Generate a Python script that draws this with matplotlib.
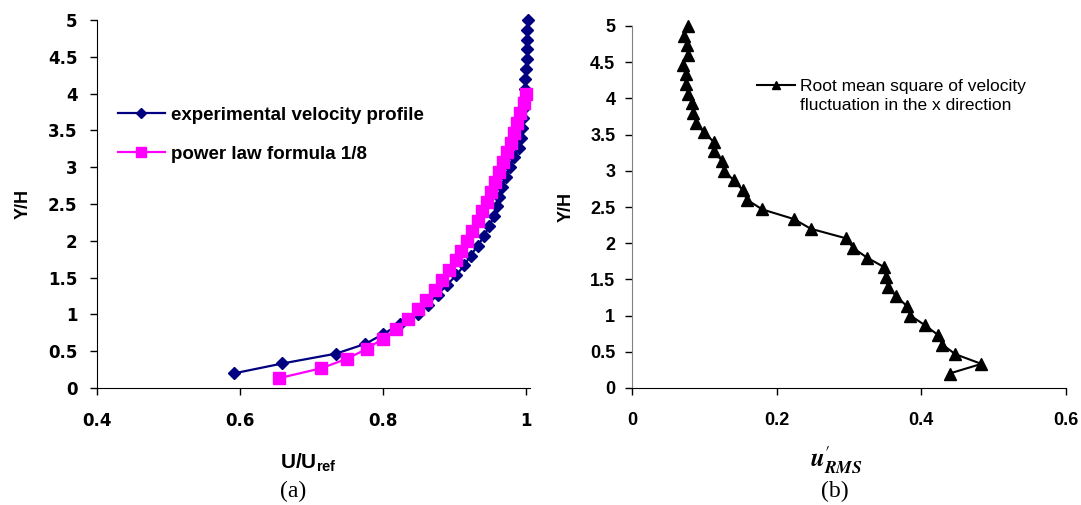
import matplotlib.pyplot as plt

plt.rcParams['font.family'] = ['Liberation Sans', 'DejaVu Sans']
plt.rcParams['mathtext.fontset'] = 'custom'
plt.rcParams['mathtext.rm'] = 'Liberation Sans:bold'
plt.rcParams['mathtext.bf'] = 'Liberation Sans:bold'

# shared Y/H stations
y_h = [0.2, 0.333, 0.467, 0.6, 0.733, 0.867, 1.0, 1.133, 1.267, 1.4, 1.533, 1.667,
       1.8, 1.933, 2.067, 2.2, 2.333, 2.467, 2.6, 2.733, 2.867, 3.0, 3.133, 3.267,
       3.4, 3.533, 3.667, 3.8, 3.933, 4.067, 4.2, 4.333, 4.467, 4.6, 4.733, 4.867, 5.0]

# (a) experimental velocity profile
u_exp = [0.592, 0.659, 0.734, 0.775, 0.800, 0.823, 0.848, 0.862, 0.876, 0.889, 0.902,
         0.913, 0.922, 0.932, 0.941, 0.948, 0.955, 0.959, 0.962, 0.966, 0.971, 0.977,
         0.983, 0.989, 0.992, 0.994, 0.995, 0.996, 0.997, 0.998, 0.998, 1.000, 1.001,
         1.001, 1.001, 1.001, 1.002]

# (a) power law 1/8
y_pow = [0.133, 0.267, 0.4, 0.533, 0.667, 0.8, 0.933, 1.067, 1.2, 1.333, 1.467, 1.6,
         1.733, 1.867, 2.0, 2.133, 2.267, 2.4, 2.533, 2.667, 2.8, 2.933, 3.067, 3.2,
         3.333, 3.467, 3.6, 3.733, 3.867, 4.0]
u_pow = [0.654, 0.713, 0.750, 0.777, 0.799, 0.818, 0.834, 0.848, 0.860, 0.872, 0.882,
         0.892, 0.901, 0.909, 0.917, 0.924, 0.932, 0.938, 0.945, 0.951, 0.956, 0.962,
         0.967, 0.973, 0.978, 0.982, 0.987, 0.991, 0.996, 1.000]

# (b) rms of velocity fluctuation
u_rms = [0.439, 0.483, 0.447, 0.429, 0.423, 0.405, 0.385, 0.380, 0.365, 0.354, 0.351,
         0.349, 0.325, 0.306, 0.296, 0.247, 0.224, 0.180, 0.159, 0.153, 0.141, 0.127,
         0.125, 0.113, 0.113, 0.099, 0.089, 0.085, 0.083, 0.078, 0.074, 0.074, 0.070,
         0.077, 0.076, 0.072, 0.078]

y_ticks = [0, 0.5, 1, 1.5, 2, 2.5, 3, 3.5, 4, 4.5, 5]
y_tick_labels = ['0', '0.5', '1', '1.5', '2', '2.5', '3', '3.5', '4', '4.5', '5']

fig = plt.figure(figsize=(10.81, 5.05), dpi=100)
W, H = 1081, 505

def px_axes(x0, x1, y0, y1):
    return fig.add_axes([x0 / W, 1 - y0 / H, (x1 - x0) / W, (y0 - y1) / H])

tick_a = dict(fontsize=12, fontweight='bold', family=['DejaVu Sans'])
tick_b = dict(fontsize=13, fontweight='bold',
              family=['Liberation Sans Narrow', 'Liberation Sans'])

# ---- panel (a)
ax1 = px_axes(97, 530, 388, 20)
ax1.plot(u_exp, y_h, color='#000080', lw=1.6, marker='D', ms=6.5, clip_on=False,
         label='experimental velocity profile')
ax1.plot(u_pow, y_pow, color='#FF00FF', lw=1.6, marker='s', ms=8.5, clip_on=False,
         label='power law formula 1/8')
ax1.set_xlim(0.4, 1.005)
ax1.set_ylim(0, 5)
ax1.set_xticks([0.4, 0.6, 0.8, 1.0])
ax1.set_xticklabels(['0.4', '0.6', '0.8', '1'], **tick_a)
ax1.set_yticks(y_ticks)
ax1.set_yticklabels(y_tick_labels, **tick_a)
ax1.set_xlabel(r'U/U$_{\mathbf{ref}}$', fontsize=15, fontweight='bold')
ax1.xaxis.set_label_coords(0.489, -0.172)
ax1.set_ylabel('Y/H', fontsize=13, fontweight='bold')
ax1.yaxis.set_label_coords(-0.15, 0.5)
leg1 = ax1.legend(loc='center left', bbox_to_anchor=(0.048, 0.688), frameon=False,
                  borderaxespad=0, borderpad=0, handlelength=2.5, handletextpad=0.35,
                  labelspacing=1.15, markerscale=0.8,
                  prop=dict(size=13.5, weight='bold'))

# ---- panel (b)
ax2 = px_axes(632, 1066, 388, 26)
ax2.plot(u_rms, y_h, color='black', lw=1.5, marker='^', ms=8.5, clip_on=False,
         label='Root mean square of velocity')
ax2.set_xlim(0, 0.6)
ax2.set_ylim(0, 5)
ax2.set_xticks([0, 0.2, 0.4, 0.6])
ax2.set_xticklabels(['0', '0.2', '0.4', '0.6'], **tick_b)
ax2.set_yticks(y_ticks)
ax2.set_yticklabels(y_tick_labels, **tick_b)
ax2.set_ylabel('Y/H', fontsize=13, fontweight='bold')
ax2.yaxis.set_label_coords(-0.133, 0.5)
ax2.set_xlabel(r"$\mathbfit{u}^{\prime}_{\mathbfit{RMS}}$", fontsize=18,
               math_fontfamily='stix')
ax2.xaxis.set_label_coords(0.47, -0.155)
ax2.spines['left'].set_color('#808080')
leg2 = ax2.legend(loc='center left', bbox_to_anchor=(0.288, 0.832), frameon=False,
                  borderaxespad=0, borderpad=0, handlelength=2.2, handletextpad=0.25,
                  markerscale=0.75, prop=dict(size=12.5))

for ax in (ax1, ax2):
    ax.spines['top'].set_visible(False)
    ax.spines['right'].set_visible(False)
    ax.tick_params(direction='out', length=5, width=1, pad=7)
    ax.tick_params(axis='y', pad=9)
    ax.tick_params(axis='x', pad=12)
ax2.tick_params(axis='y', pad=7)

fig.text(293 / W, 1 - 491 / H, '(a)', ha='center', va='center', fontsize=17,
         family='Liberation Serif')
fig.text(835 / W, 1 - 491 / H, '(b)', ha='center', va='center', fontsize=17,
         family='Liberation Serif')

# second line of the (b) legend, under the first
fig.canvas.draw()
bb = leg2.get_texts()[0].get_window_extent()
fig.text(bb.x0 / W, (bb.y0 - 4) / H, 'fluctuation in the x direction',
         ha='left', va='top', fontsize=12.5)

fig.savefig('out.png', dpi=100)
